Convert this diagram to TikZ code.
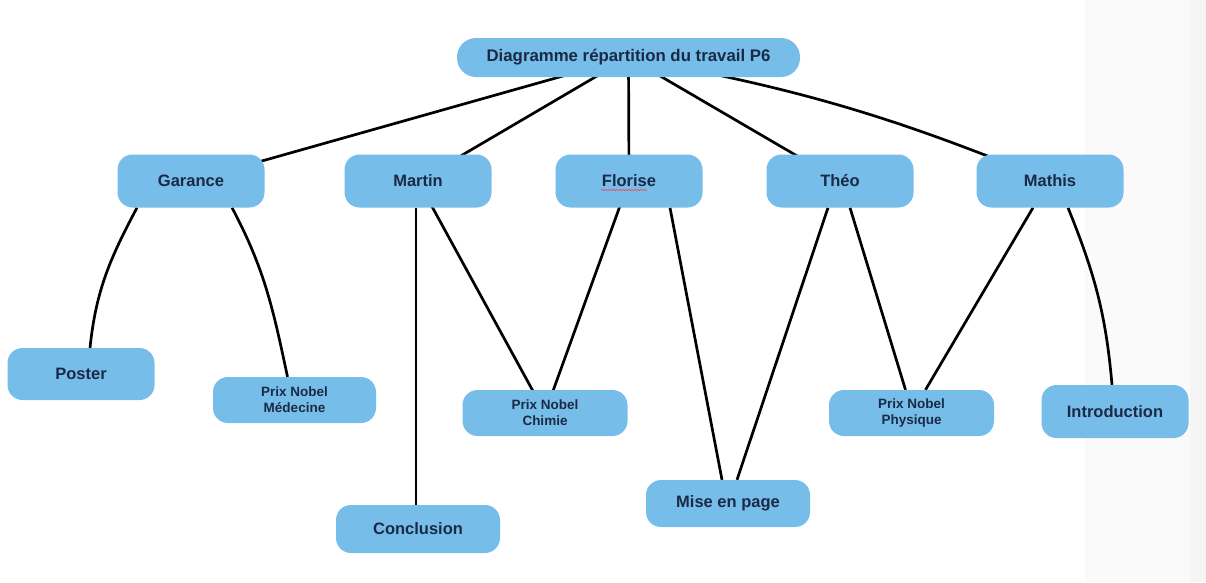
\documentclass[tikz,border=0pt]{standalone}
\usepackage{fontspec}
\setmainfont{Liberation Sans}
\usetikzlibrary{calc,backgrounds,decorations.pathmorphing}
\definecolor{boxblue}{HTML}{76BDEA}
\definecolor{txtcol}{HTML}{1B2A44}
\begin{document}
\begin{tikzpicture}[x=1pt,y=-1pt,
  box/.style={fill=boxblue, rounded corners=15pt, text=txtcol, align=center, inner sep=0pt,
    font=\bfseries\fontsize{16.5}{18}\selectfont},
  namebox/.style={box, minimum width=147pt, minimum height=53pt},
  smallbox/.style={box, minimum width=164pt, minimum height=46pt, font=\bfseries\fontsize{13.5}{16}\selectfont},
  link/.style={line width=2.7pt, black}]
\useasboundingbox (0,0) rectangle (1206,582);
% nodes
\node[box, minimum width=343pt, minimum height=39pt, rounded corners=19pt,
  font=\bfseries\fontsize{16.8}{20}\selectfont] (top) at (628.5,57.5) {Diagramme répartition du travail P6};
\node[namebox] (garance) at (191,181) {Garance};
\node[namebox] (martin) at (418,181) {Martin};
\node[namebox] (florise) at (629,181) {Florise};
\node[namebox] (theo) at (840,181) {Théo};
\node[namebox] (mathis) at (1050,181) {Mathis};
\node[namebox, minimum height=52pt] (poster) at (81,374) {Poster};
\node[smallbox, minimum width=163pt] (medecine) at (294.5,400) {Prix Nobel\\Médecine};
\node[smallbox, minimum width=165pt] (chimie) at (545,413) {Prix Nobel\\Chimie};
\node[smallbox, minimum width=165pt] (physique) at (911.5,413) {Prix Nobel\\Physique};
\node[namebox] (intro) at (1115,411.5) {Introduction};
\node[namebox, minimum width=164pt, minimum height=48pt] (conclusion) at (418,529) {Conclusion};
\node[namebox, minimum width=164pt, minimum height=47pt] (mise) at (728,503.5) {Mise en page};
% spell-check underline
\draw[red!75, line width=0.6pt, decorate, decoration={snake, amplitude=0.7pt, segment length=3pt}]
  ($(florise.center)+(-28,9)$) -- ($(florise.center)+(18,9)$);
\begin{scope}[on background layer]
  \fill[gray!4] (1085,0) rectangle (1206,582);
  \fill[gray!8] (1190,0) rectangle (1206,582);
  \draw[link] (top.center) -- (garance.center);
  \draw[link] (top.center) -- (martin.center);
  \draw[link] (top.center) -- (florise.center);
  \draw[link] (top.center) -- (theo.center);
  \draw[link] (top.center) to[bend left=6] (mathis.center);
  \draw[link] ([xshift=-54pt]garance.south) to[out=-118,in=84] ([xshift=9pt]poster.north);
  \draw[link] ([xshift=41pt]garance.south) to[out=-62,in=102] ([xshift=-7pt]medecine.north);
  \draw[link] ([xshift=-2pt]martin.south) -- ([xshift=-2pt]conclusion.north);
  \draw[link] (martin.center) -- (chimie.center);
  \draw[link] (florise.center) -- (chimie.center);
  \draw[link] ([xshift=41pt]florise.south) -- ([xshift=-6pt]mise.north);
  \draw[link] ([xshift=-12pt]theo.south) -- ([xshift=9pt]mise.north);
  \draw[link] ([xshift=10pt]theo.south) -- ([xshift=-6pt]physique.north);
  \draw[link] ([xshift=-17pt]mathis.south) -- ([xshift=14pt]physique.north);
  \draw[link] ([xshift=18pt]mathis.south) to[out=-68,in=95] ([xshift=-3pt]intro.north);
\end{scope}
\end{tikzpicture}
\end{document}
